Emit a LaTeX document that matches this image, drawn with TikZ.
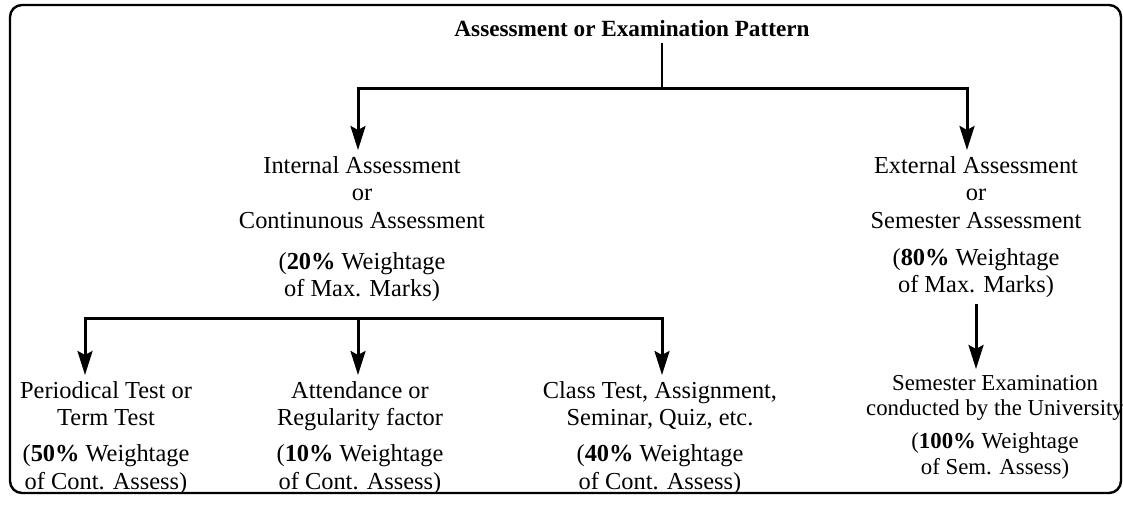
\documentclass[tikz,border=0pt]{standalone}
\usepackage{fontspec}
\setmainfont{Liberation Serif}
\usetikzlibrary{arrows.meta}

\begin{document}
\begin{tikzpicture}[x=0.5pt, y=-0.5pt,
    txt/.style={align=center, inner sep=3pt, anchor=north, font=\fontsize{12.2pt}{13.8pt}\selectfont},
    txtsm/.style={txt, font=\fontsize{11.4pt}{12.6pt}\selectfont},
    flecha/.style={-{Stealth[length=12pt, width=7.5pt, inset=2pt]}, line width=1.5pt},
    linea/.style={line width=1.5pt, line cap=rect}]
    \useasboundingbox (0,0) rectangle (1123,504);
    % Marco
    \draw[line width=1.2pt, rounded corners=6pt] (10,5) rectangle (1121,493);
    % Titulo
    \node[font=\fontsize{11.6pt}{13pt}\selectfont\bfseries, anchor=base, inner sep=3pt] (titulo) at (632,36) {Assessment or Examination Pattern};
    \coordinate (top) at (662,88);
    \coordinate (topl) at (358,88);
    \coordinate (topr) at (967,88);
    % Nivel medio
    \node[txt] (intl) at (362,150) {Internal Assessment\\ or\\ Continunous Assessment\\[6.5pt] (\textbf{20\%} Weightage\\ of Max. Marks)};
    \node[txt] (ext) at (976,150) {External Assessment\\ or\\ Semester Assessment\\[4.5pt] (\textbf{80\%} Weightage\\ of Max. Marks)};
    % Nivel inferior
    \node[txt] (ptest) at (106,375) {Periodical Test or\\ Term Test\\[4pt] (\textbf{50\%} Weightage\\ of Cont. Assess)};
    \node[txt] (attend) at (360,375) {Attendance or\\ Regularity factor\\[4pt] (\textbf{10\%} Weightage\\ of Cont. Assess)};
    \node[txt] (ctest) at (660,375) {Class Test, Assignment,\\ Seminar, Quiz, etc.\\[4pt] (\textbf{40\%} Weightage\\ of Cont. Assess)};
    \node[txtsm] (sem) at (995,369) {Semester Examination\\ conducted by the University\\[4pt] (\textbf{100\%} Weightage\\ of Sem. Assess)};
    \coordinate (bl) at (85,318);
    \coordinate (bm) at (358,318);
    \coordinate (br) at (662,318);
    % Conectores
    \draw[line width=1pt] (top |- titulo.south) -- (top);
    \draw[linea] (topl) -- (topr);
    \draw[flecha] (topl) -- (topl |- intl.north);
    \draw[flecha] (topr) -- (topr |- ext.north);
    \draw[linea] (bl) -- (br);
    \foreach \c/\n in {bl/ptest, bm/attend, br/ctest}
        \draw[flecha] (\c) -- (\c |- \n.north);
    \draw[flecha] (ext.south) -- (ext.south |- sem.north);
\end{tikzpicture}
\end{document}
